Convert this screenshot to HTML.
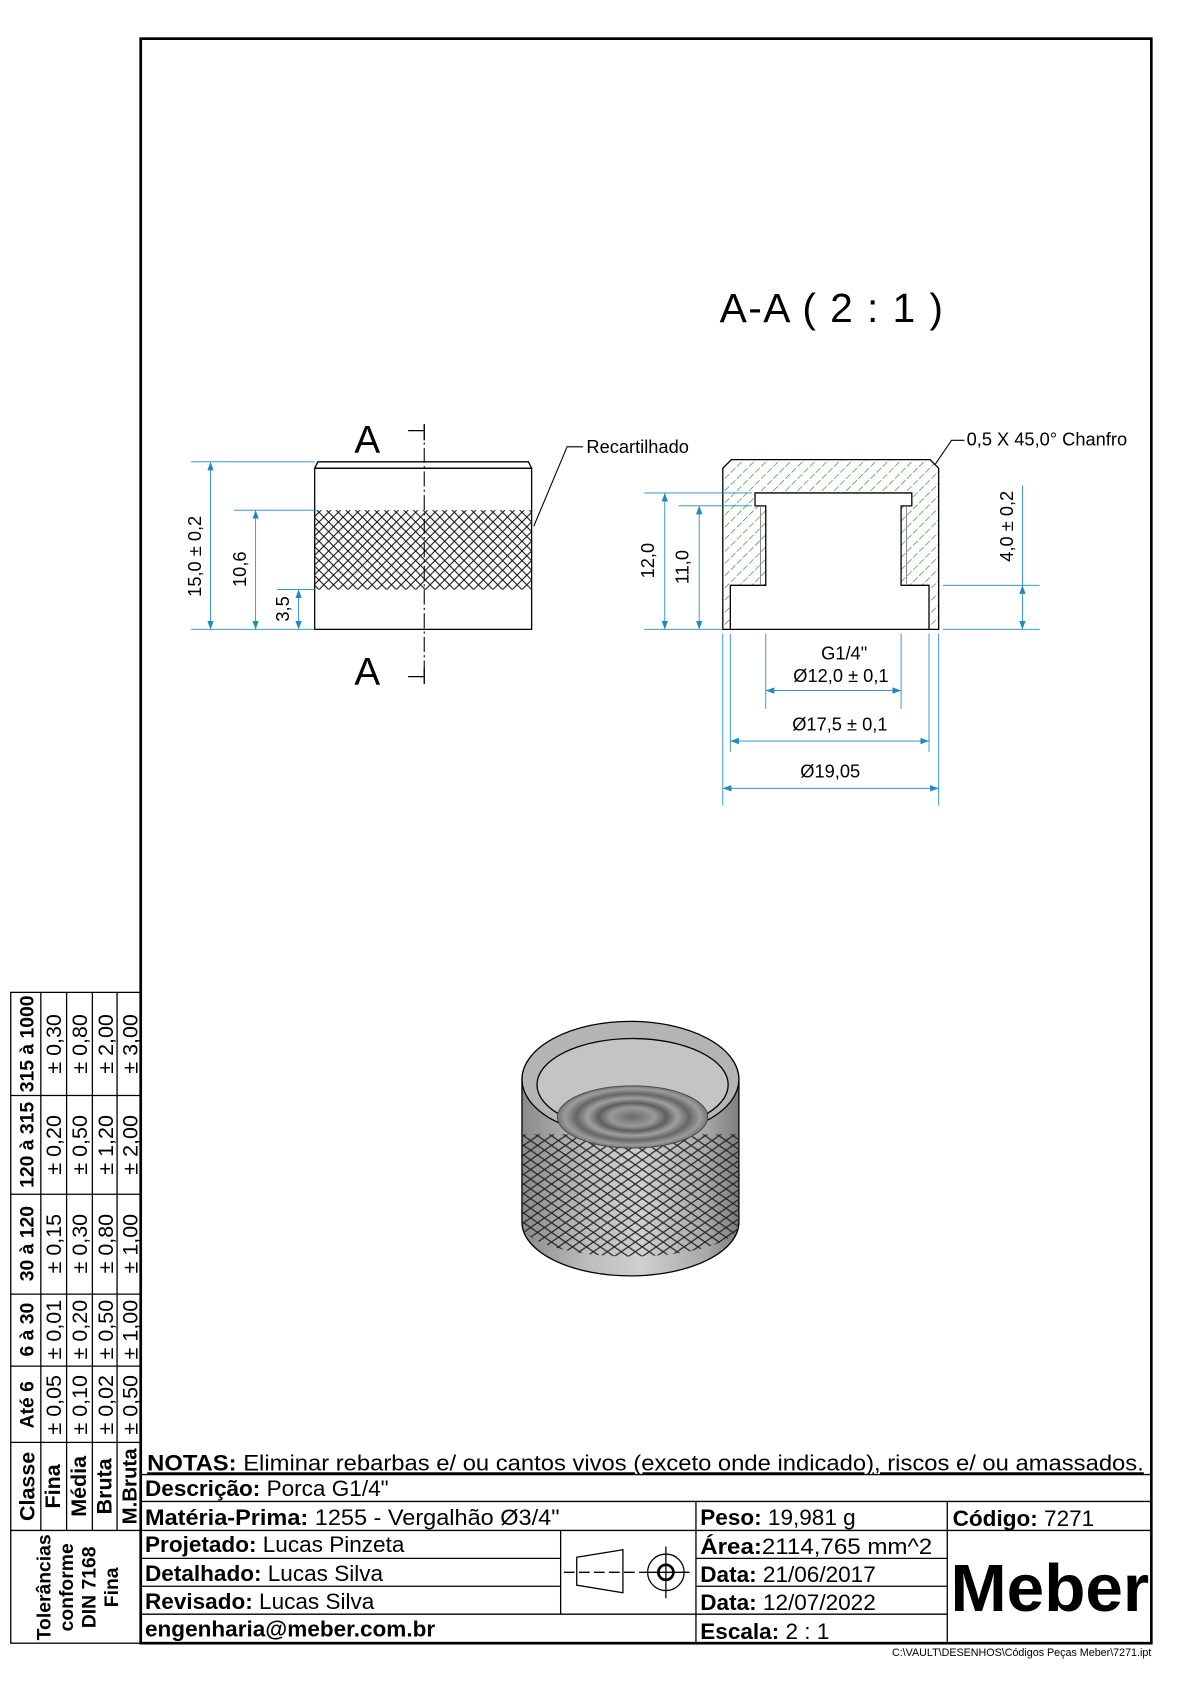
<!DOCTYPE html>
<html><head><meta charset="utf-8"><style>
html,body{margin:0;padding:0;background:#fff;}
svg{display:block;font-family:"Liberation Sans",Arial,sans-serif;}
</style></head><body>
<svg width="1190" height="1684" viewBox="0 0 1108 1568" xmlns="http://www.w3.org/2000/svg">
<defs>
<pattern id="hatch" width="8" height="8" patternUnits="userSpaceOnUse" patternTransform="rotate(45)">
<line x1="0" y1="0" x2="0" y2="8" stroke="#2a8a2a" stroke-width="1.2" stroke-dasharray="6,3"/>
</pattern>
<pattern id="knurl" width="9" height="9" patternUnits="userSpaceOnUse">
<path d="M0,0L9,9M9,0L0,9" stroke="#111" stroke-width="1"/>
</pattern>
<pattern id="knurl3" width="13" height="9" patternUnits="userSpaceOnUse">
<path d="M0,0L13,9M13,0L0,9" stroke="#222" stroke-width="1.1"/>
</pattern>
<linearGradient id="cyl" x1="0" x2="1" y1="0" y2="0">
<stop offset="0" stop-color="#8a8a8a"/><stop offset="0.3" stop-color="#bdbdbd"/><stop offset="0.55" stop-color="#cfcfcf"/><stop offset="0.85" stop-color="#a8a8a8"/><stop offset="1" stop-color="#7d7d7d"/>
</linearGradient>
<radialGradient id="thr" cx="0.5" cy="0.5" r="0.5">
<stop offset="0" stop-color="#6a6a6a"/><stop offset="0.3" stop-color="#9a9a9a"/><stop offset="0.45" stop-color="#5e5e5e"/><stop offset="0.6" stop-color="#a0a0a0"/><stop offset="0.75" stop-color="#666"/><stop offset="0.9" stop-color="#9c9c9c"/><stop offset="1" stop-color="#777"/>
</radialGradient>
<clipPath id="band"><path d="M486,1056 H688 V1140 A101,30 0 0 1 486,1140 Z"/></clipPath>
<marker id="ar" markerWidth="8" markerHeight="6" refX="8" refY="3" orient="auto-start-reverse" markerUnits="userSpaceOnUse"><path d="M0,0L8,3L0,6z" fill="#1f8ac0"/></marker>
</defs>

<rect x="131" y="36" width="941" height="1494" fill="none" stroke="#000" stroke-width="2.5"/>

<text x="670" y="300" font-size="38" textLength="208">A-A  ( 2 : 1 )</text>

<!-- FRONT VIEW -->
<g stroke="#000" stroke-width="1.2" fill="none">
<path d="M293,436 L296,430 L492,430 L495,436 Z"/>
<rect x="293" y="436" width="202" height="150"/>
</g>
<rect x="293" y="475" width="202" height="74" fill="url(#knurl)"/>
<line x1="395" y1="395" x2="395" y2="637" stroke="#000" stroke-width="1" stroke-dasharray="14,3,2,3"/>
<path d="M380,401H395M395,395V410M380,630H395M395,622V637" stroke="#000" stroke-width="1.2"/>
<text x="330" y="422" font-size="36">A</text>
<text x="330" y="638" font-size="36">A</text>
<g stroke="#1f8ac0" stroke-width="0.8" fill="none">
<path d="M178,430H293M178,586H293M218,475H293M258,549H293"/>
<line x1="196" y1="430" x2="196" y2="586" marker-start="url(#ar)" marker-end="url(#ar)"/>
<line x1="238" y1="475" x2="238" y2="586" marker-start="url(#ar)" marker-end="url(#ar)"/>
<line x1="278" y1="549" x2="278" y2="586" marker-start="url(#ar)" marker-end="url(#ar)"/>
</g>
<g font-size="17" fill="#000">
<text transform="translate(187,518) rotate(-90)" text-anchor="middle">15,0 ± 0,2</text>
<text transform="translate(229,530) rotate(-90)" text-anchor="middle">10,6</text>
<text transform="translate(269,567) rotate(-90)" text-anchor="middle">3,5</text>
</g>
<path d="M543,416H528L497,490" stroke="#000" stroke-width="1" fill="none"/>
<text x="546" y="422" font-size="17">Recartilhado</text>

<!-- SECTION VIEW -->
<path fill-rule="evenodd" fill="url(#hatch)" d="M673,436L681,428H866L874,436V586H865V545H839V471H849V459H703V471H713V545H680V586H673Z"/>
<g stroke="#000" stroke-width="1.2" fill="none">
<path d="M673,436L681,428H866L874,436V586H865V545H839V471H849V459H703V471H713V545H680V586H673Z"/>
<line x1="680" y1="586" x2="865" y2="586"/>
</g>
<path d="M708,471V545M844,471V545" stroke="#666" stroke-width="0.7"/>
<g stroke="#1f8ac0" stroke-width="0.8" fill="none">
<path d="M600,459H700M632,471H700M600,586H672M878,586H968M878,545H968M952,452V545"/>
<path d="M680,590V700M865,590V700M673,590V750M874,590V750M713,590V660M839,590V660"/>
<line x1="619" y1="459" x2="619" y2="586" marker-start="url(#ar)" marker-end="url(#ar)"/>
<line x1="651" y1="471" x2="651" y2="586" marker-start="url(#ar)" marker-end="url(#ar)"/>
<line x1="952" y1="545" x2="952" y2="586" marker-start="url(#ar)" marker-end="url(#ar)"/>
<line x1="713" y1="643" x2="839" y2="643" marker-start="url(#ar)" marker-end="url(#ar)"/>
<line x1="680" y1="690" x2="865" y2="690" marker-start="url(#ar)" marker-end="url(#ar)"/>
<line x1="673" y1="734" x2="874" y2="734" marker-start="url(#ar)" marker-end="url(#ar)"/>
</g>
<g font-size="17" fill="#000">
<text transform="translate(609,522) rotate(-90)" text-anchor="middle">12,0</text>
<text transform="translate(641,528) rotate(-90)" text-anchor="middle">11,0</text>
<text transform="translate(943,490) rotate(-90)" text-anchor="middle">4,0 ± 0,2</text>
<text x="786" y="614" text-anchor="middle">G1/4"</text>
<text x="783" y="635" text-anchor="middle">Ø12,0 ± 0,1</text>
<text x="782" y="680" text-anchor="middle">Ø17,5 ± 0,1</text>
<text x="773" y="724" text-anchor="middle">Ø19,05</text>
</g>
<path d="M898,410H886L871,432" stroke="#000" stroke-width="1" fill="none"/>
<text x="900" y="415" font-size="17">0,5 X 45,0° Chanfro</text>

<!-- ISO VIEW -->
<g stroke="#000" stroke-width="1.2">
<path d="M486,1005 V1138 A101,50 0 0 0 688,1138 V1005 Z" fill="url(#cyl)"/>
<rect x="486" y="1056" width="202" height="120" fill="url(#knurl3)" stroke="none" clip-path="url(#band)"/>
<ellipse cx="587" cy="1005" rx="101" ry="54" fill="#b4b4b4"/>
<ellipse cx="589" cy="1010" rx="89" ry="43" fill="#c4c4c4"/>
<ellipse cx="589" cy="1040" rx="70" ry="29" fill="url(#thr)" stroke="#444" stroke-width="0.8"/>
</g>

<!-- TOLERANCE TABLE -->
<g stroke="#000" stroke-width="1.2" fill="none">
<rect x="10" y="924" width="121" height="606"/>
<path d="M10,1020H131M10,1112H131M10,1205H131M10,1272H131M10,1343H131M10,1425H131"/>
<path d="M38,924V1425M62,924V1425M86,924V1425M109,924V1425"/>
</g>
<g fill="#000">
<g font-weight="bold" font-size="18">
<text transform="translate(31,972) rotate(-90)" text-anchor="middle">315 à 1000</text>
<text transform="translate(31,1066) rotate(-90)" text-anchor="middle">120 à 315</text>
<text transform="translate(31,1158) rotate(-90)" text-anchor="middle">30 à 120</text>
<text transform="translate(31,1238) rotate(-90)" text-anchor="middle">6 à 30</text>
<text transform="translate(31,1308) rotate(-90)" text-anchor="middle">Até 6</text>
<text transform="translate(32,1384) rotate(-90)" text-anchor="middle" font-size="20">Classe</text>
<text transform="translate(56,1384) rotate(-90)" text-anchor="middle" font-size="20">Fina</text>
<text transform="translate(80,1384) rotate(-90)" text-anchor="middle" font-size="20">Média</text>
<text transform="translate(104,1384) rotate(-90)" text-anchor="middle" font-size="20">Bruta</text>
<text transform="translate(127,1384) rotate(-90)" text-anchor="middle" font-size="19">M.Bruta</text>
<text transform="translate(47,1478) rotate(-90)" text-anchor="middle">Tolerâncias</text>
<text transform="translate(68,1478) rotate(-90)" text-anchor="middle">conforme</text>
<text transform="translate(89,1478) rotate(-90)" text-anchor="middle">DIN 7168</text>
<text transform="translate(110,1478) rotate(-90)" text-anchor="middle">Fina</text>
</g>
<g font-size="20">
<text transform="translate(57,972) rotate(-90)" text-anchor="middle">± 0,30</text>
<text transform="translate(81,972) rotate(-90)" text-anchor="middle">± 0,80</text>
<text transform="translate(105,972) rotate(-90)" text-anchor="middle">± 2,00</text>
<text transform="translate(128,972) rotate(-90)" text-anchor="middle">± 3,00</text>
<text transform="translate(57,1066) rotate(-90)" text-anchor="middle">± 0,20</text>
<text transform="translate(81,1066) rotate(-90)" text-anchor="middle">± 0,50</text>
<text transform="translate(105,1066) rotate(-90)" text-anchor="middle">± 1,20</text>
<text transform="translate(128,1066) rotate(-90)" text-anchor="middle">± 2,00</text>
<text transform="translate(57,1158) rotate(-90)" text-anchor="middle">± 0,15</text>
<text transform="translate(81,1158) rotate(-90)" text-anchor="middle">± 0,30</text>
<text transform="translate(105,1158) rotate(-90)" text-anchor="middle">± 0,80</text>
<text transform="translate(128,1158) rotate(-90)" text-anchor="middle">± 1,00</text>
<text transform="translate(57,1238) rotate(-90)" text-anchor="middle">± 0,01</text>
<text transform="translate(81,1238) rotate(-90)" text-anchor="middle">± 0,20</text>
<text transform="translate(105,1238) rotate(-90)" text-anchor="middle">± 0,50</text>
<text transform="translate(128,1238) rotate(-90)" text-anchor="middle">± 1,00</text>
<text transform="translate(57,1308) rotate(-90)" text-anchor="middle">± 0,05</text>
<text transform="translate(81,1308) rotate(-90)" text-anchor="middle">± 0,10</text>
<text transform="translate(105,1308) rotate(-90)" text-anchor="middle">± 0,02</text>
<text transform="translate(128,1308) rotate(-90)" text-anchor="middle">± 0,50</text>
</g>
</g>

<!-- TITLE BLOCK -->
<g stroke="#000" stroke-width="1.2" fill="none">
<path d="M131,1373H1072M131,1398H1072M131,1425H1072M131,1451H522M131,1477H522M648,1451H882M648,1477H882M648,1503H882M131,1503H648"/>
<path d="M522,1425V1503M648,1398V1530M882,1398V1530"/>
</g>
<g font-size="21" fill="#000">
<text x="137" y="1369" text-decoration="underline" textLength="928" lengthAdjust="spacingAndGlyphs"><tspan font-weight="bold">NOTAS:</tspan> Eliminar rebarbas e/ ou cantos vivos (exceto onde indicado), riscos e/ ou amassados.</text>
<text x="135" y="1393"><tspan font-weight="bold">Descrição:</tspan> Porca G1/4"</text>
<text x="135" y="1420" textLength="386" lengthAdjust="spacingAndGlyphs"><tspan font-weight="bold">Matéria-Prima:</tspan> 1255 - Vergalhão Ø3/4"</text>
<text x="135" y="1445"><tspan font-weight="bold">Projetado:</tspan> Lucas Pinzeta</text>
<text x="135" y="1472"><tspan font-weight="bold">Detalhado:</tspan> Lucas Silva</text>
<text x="135" y="1498"><tspan font-weight="bold">Revisado:</tspan> Lucas Silva</text>
<text x="135" y="1524" font-weight="bold">engenharia@meber.com.br</text>
<text x="652" y="1420"><tspan font-weight="bold">Peso:</tspan> 19,981 g</text>
<text x="652" y="1447" textLength="216" lengthAdjust="spacingAndGlyphs"><tspan font-weight="bold">Área:</tspan>2114,765 mm^2</text>
<text x="652" y="1473"><tspan font-weight="bold">Data:</tspan> 21/06/2017</text>
<text x="652" y="1499"><tspan font-weight="bold">Data:</tspan> 12/07/2022</text>
<text x="652" y="1526"><tspan font-weight="bold">Escala:</tspan> 2 : 1</text>
<text x="887" y="1421"><tspan font-weight="bold">Código:</tspan> 7271</text>
</g>
<text x="885" y="1500" font-size="62" font-weight="bold" fill="#000" textLength="185" lengthAdjust="spacingAndGlyphs">Meber</text>
<g stroke="#000" stroke-width="1.2" fill="none">
<path d="M537,1450L580,1443V1483L537,1476Z"/>
<path d="M525,1464H598" stroke-dasharray="10,4"/>
<circle cx="620" cy="1464" r="17"/>
<circle cx="620" cy="1464" r="7" stroke-width="2.5"/>
<path d="M598,1464H642M620,1440V1488"/>
</g>
<text x="1072" y="1542" font-size="10" text-anchor="end" fill="#000">C:\VAULT\DESENHOS\Códigos Peças Meber\7271.ipt</text>
</svg>
</body></html>
